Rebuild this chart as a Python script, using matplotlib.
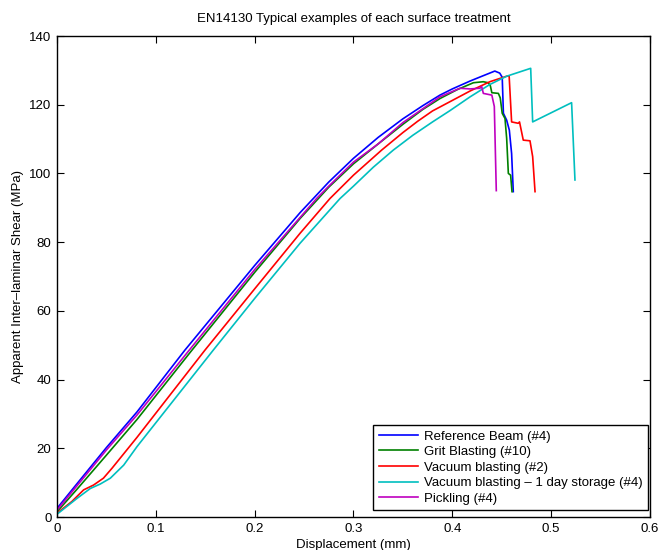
import matplotlib
matplotlib.use("Agg")
import matplotlib.pyplot as plt

plt.rcParams['font.family'] = ['Liberation Sans', 'DejaVu Sans']

# Reference Beam (#4)
ref_d = [0, 0.02, 0.05, 0.081, 0.1295, 0.2, 0.246, 0.275, 0.3, 0.325, 0.35, 0.37, 0.3875, 0.4,
         0.418, 0.43, 0.443, 0.448, 0.4505, 0.4517, 0.455, 0.4577, 0.460, 0.4617]
ref_v = [2.5, 9.6, 20.2, 30.6, 48.6, 73.2, 88.6, 97.5, 104.4, 110.5, 115.9, 119.7, 122.8, 124.6,
         126.9, 128.3, 129.8, 129.2, 128.0, 117.5, 115.5, 112.6, 105.8, 94.7]

# Grit Blasting (#10)
grit_d = [0, 0.02, 0.05, 0.081, 0.135, 0.2, 0.246, 0.275, 0.3, 0.325, 0.35, 0.37, 0.3875, 0.405,
          0.4213, 0.4313, 0.4364, 0.4385, 0.44, 0.4466, 0.4485, 0.4505, 0.4533, 0.455, 0.4567,
          0.459, 0.4604]
grit_v = [1.5, 8.0, 18.0, 28.4, 48.0, 71.2, 86.9, 96.0, 102.8, 108.6, 114.3, 118.6, 121.8, 124.4,
          126.4, 126.7, 126.4, 125.5, 123.5, 123.3, 122.0, 117.5, 116.0, 110.2, 100.0,
          99.5, 94.7]

# Vacuum blasting (#2)
vac_d = [0, 0.015, 0.027, 0.037, 0.047, 0.0557, 0.081, 0.1498, 0.2, 0.246, 0.2762, 0.3, 0.3285,
         0.35, 0.365, 0.38, 0.3977, 0.418, 0.438, 0.455, 0.4575, 0.460, 0.4667, 0.468, 0.4718,
         0.4786, 0.4813, 0.4837]
vac_v = [1.1, 4.5, 7.9, 9.3, 11.3, 14.2, 23.2, 48.6, 66.4, 82.6, 92.7, 99.5, 106.8,
         111.9, 115.2, 118.2, 120.9, 124.0, 126.7, 128.3, 128.4, 115.0, 114.6, 115.0, 109.7,
         109.5, 104.9, 94.7]

# Vacuum blasting - 1 day storage (#4)
vac1_d = [0, 0.0202, 0.0337, 0.0438, 0.054, 0.0675, 0.081, 0.1582, 0.2, 0.246, 0.2864, 0.3,
          0.32, 0.3403, 0.36, 0.38, 0.3977, 0.418, 0.438, 0.455, 0.4793, 0.4813, 0.5207, 0.5241]
vac1_v = [0.8, 5.4, 8.3, 9.6, 11.3, 15.1, 20.5, 48.6, 63.6, 79.7, 92.7, 96.3,
          101.8, 106.8, 111.1, 115.0, 118.3, 122.3, 125.9, 128.3, 130.6, 115.0, 120.6, 98.1]

# Pickling (#4)
pick_d = [0, 0.02, 0.05, 0.081, 0.1339, 0.2, 0.246, 0.2627, 0.275, 0.3, 0.325, 0.35, 0.37, 0.3875,
          0.4077, 0.418, 0.4279, 0.4297, 0.4314, 0.44, 0.4425, 0.4445]
pick_v = [2.0, 9.0, 19.5, 29.7, 48.6, 72.0, 87.2, 92.7, 96.3, 103.3, 108.6, 114.8, 118.8, 122.3,
          124.8, 124.6, 124.8, 125.3, 123.3, 122.8, 119.5, 95.0]

labels = ['Reference Beam (#4)', 'Grit Blasting (#10)', 'Vacuum blasting (#2)',
          'Vacuum blasting \u2013 1 day storage (#4)', 'Pickling (#4)']
colors = ['#0000ff', '#008000', '#ff0000', '#00bfbf', '#bf00bf']

xticks = [0, 0.1, 0.2, 0.3, 0.4, 0.5, 0.6]
yticks = [0, 20, 40, 60, 80, 100, 120, 140]

fig = plt.figure(figsize=(6.58, 5.50), dpi=100)
ax = fig.add_axes([0.0866, 0.06, 0.9012, 0.8745])

series = [(ref_d, ref_v), (grit_d, grit_v), (vac_d, vac_v), (vac1_d, vac1_v), (pick_d, pick_v)]
for (d, v), lab, c in zip(series, labels, colors):
    ax.plot(d, v, color=c, lw=1.2, label=lab)

ax.set_xlim(0, 0.6)
ax.set_ylim(0, 140)
ax.set_xticks(xticks)
ax.set_xticklabels(['0', '0.1', '0.2', '0.3', '0.4', '0.5', '0.6'])
ax.set_yticks(yticks)
ax.tick_params(direction='in', top=True, right=True, length=5, width=0.8, labelsize=9.5, pad=4)
for s in ax.spines.values():
    s.set_linewidth(1.0)

ax.set_title('EN14130 Typical examples of each surface treatment', fontsize=9.5, pad=10)
ax.set_xlabel('Displacement (mm)', fontsize=9.5, labelpad=3)
ax.set_ylabel('Apparent Inter\u2013laminar Shear (MPa)', fontsize=9.5, labelpad=4)

leg = ax.legend(loc='lower right', bbox_to_anchor=(0.9966, 0.0146), fontsize=9.5, frameon=True,
                fancybox=False, edgecolor='black', framealpha=1, handlelength=3.0,
                handletextpad=0.45, borderpad=0.4, labelspacing=0.25, borderaxespad=0.0)
leg.get_frame().set_linewidth(1.0)

fig.savefig('out.png', dpi=100)
